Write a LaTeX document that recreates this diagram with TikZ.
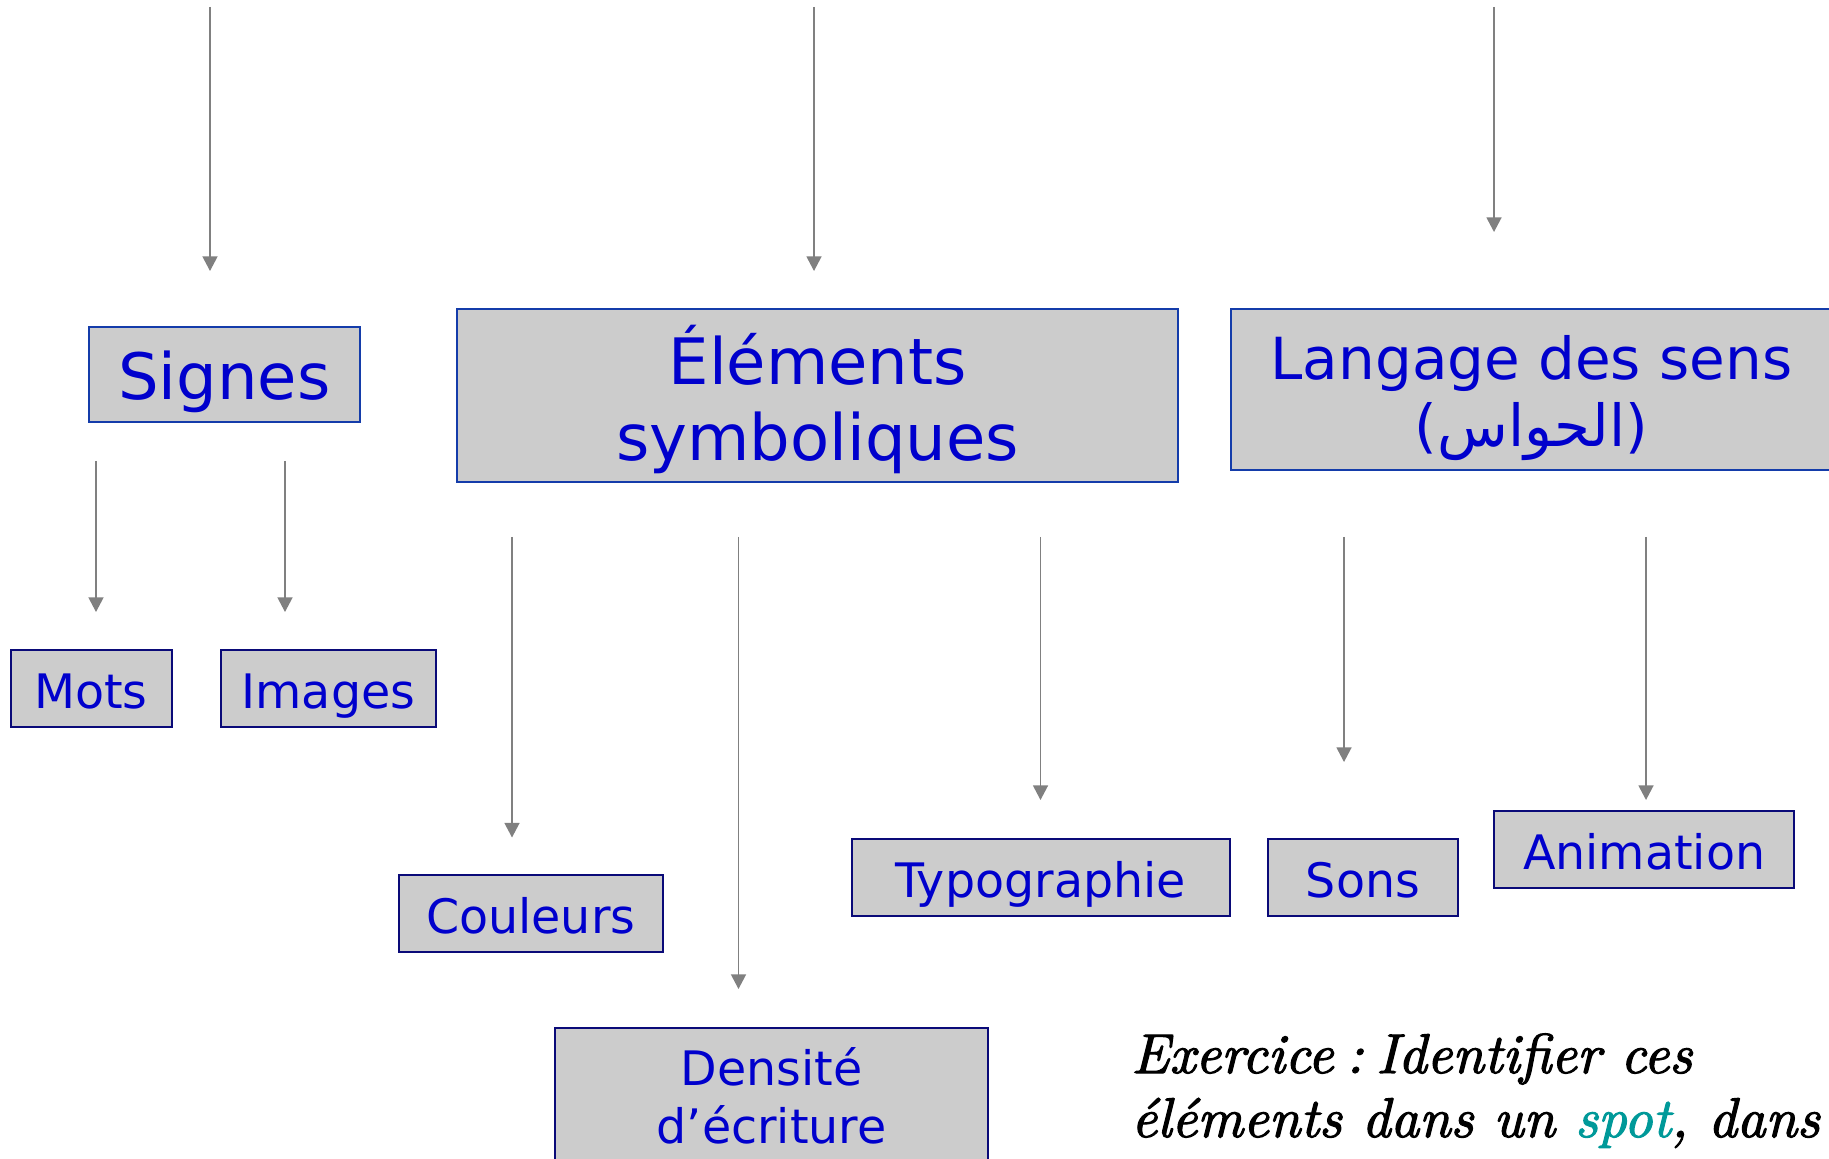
\documentclass[tikz,border=0pt]{standalone}
\usepackage{fontspec}
\newfontfamily\dv{DejaVu Sans}
\newfontfamily\arabicfont[Script=Arabic]{DejaVu Sans}
\newfontfamily\lmten[FakeBold=2]{lmroman10-italic.otf}
\TeXXeTstate=1
\usetikzlibrary{arrows.meta}
\definecolor{txtblue}{RGB}{0,0,204}
\definecolor{boxfill}{RGB}{204,204,204}
\definecolor{bordA}{RGB}{20,60,170}
\definecolor{bordB}{RGB}{10,10,120}
\definecolor{arrgray}{RGB}{128,128,128}
\definecolor{tealspot}{RGB}{0,153,153}
\newcommand\twolines[2]{\vbox{\halign{\hfil##\hfil\cr#1\cr#2\cr}}}
\newcommand\leftlines[2]{\vbox{\halign{##\hfil\cr#1\cr#2\cr}}}
\tikzset{
  box/.style={draw, fill=boxfill, line width=1pt, text=txtblue, inner sep=0pt},
  bigbox/.style={box, draw=bordA},
  smallbox/.style={box, draw=bordB, font=\dv\fontsize{23.75}{29}\selectfont,
    text height=22pt, text depth=2pt, minimum height=38.5pt},
  arr/.style={draw=arrgray, line width=0.75pt, -{Triangle[width=7.5pt,length=7.3pt]}}
}
\begin{document}
\begin{tikzpicture}[x=0.5pt,y=-0.5pt]
\useasboundingbox (0,0) rectangle (1829,1159);
% top boxes
\node[bigbox, font=\dv\fontsize{32}{38}\selectfont, minimum width=135.85pt, minimum height=47.85pt,
  text height=28pt, text depth=2.5pt] (signes) at (224.5,374.5) {Signes};
\node[bigbox, font=\dv\fontsize{32}{38}\selectfont, minimum width=360.45pt, minimum height=86.35pt,
  text height=68pt, text depth=2.5pt] (elem) at (817.75,395.45) {\twolines{Éléments}{symboliques}};
\node[bigbox, font=\dv\fontsize{29}{33.5}\selectfont, minimum width=300.8pt, minimum height=80.5pt,
  text height=60pt, text depth=2.6pt] (lang) at (1531.5,389.6)
  {\twolines{Langage des sens}{({\arabicfont\beginR الحواس\endR})}};
% lower boxes
\node[smallbox, minimum width=80.5pt] (mots) at (91,688.2) {Mots};
\node[smallbox, minimum width=107.9pt] (images) at (328.4,688.2) {Images};
\node[smallbox, minimum width=131.85pt] (couleurs) at (530.75,913.4) {Couleurs};
\node[smallbox, minimum width=189pt] (typo) at (1040.5,877.2) {Typographie};
\node[smallbox, minimum width=95pt] (sons) at (1363,877.2) {Sons};
\node[smallbox, minimum width=149.9pt] (anim) at (1644.2,849.2) {Animation};
\node[smallbox, minimum width=216.35pt, minimum height=71.15pt, text height=46pt, text depth=1.9pt]
  (dens) at (771.65,1098.9) {\twolines{Densité}{d’écriture}};
% exercise text
\node[anchor=base west, inner sep=0pt, font=\lmten\fontsize{28}{32}\selectfont\frenchspacing] (ex) at (1131,1137)
  {\leftlines{Exercice\hspace{0.23em}:\hspace{0.23em}Identifier ces}{éléments dans un \textcolor{tealspot}{spot}, dans}};
% arrow end points
\coordinate (t1s) at (210,7);    \coordinate (t1e) at (210,271);
\coordinate (t2s) at (814,7);    \coordinate (t2e) at (814,271);
\coordinate (t3s) at (1494,7);   \coordinate (t3e) at (1494,232);
\coordinate (s1s) at (96,461);   \coordinate (s1e) at (96,612);
\coordinate (s2s) at (285,461);  \coordinate (s2e) at (285,612);
\coordinate (e1s) at (512,537);  \coordinate (e1e) at (512,837.5);
\coordinate (e2s) at (738.5,537);\coordinate (e2e) at (738.5,989);
\coordinate (e3s) at (1040.5,537);\coordinate (e3e) at (1040.5,800);
\coordinate (l1s) at (1344,537); \coordinate (l1e) at (1344,762);
\coordinate (l2s) at (1646,537); \coordinate (l2e) at (1646,800);
\foreach \a in {t1,t2,t3,s1,s2,e1,e2,e3,l1,l2}
  \draw[arr] (\a s) -- (\a e);
\end{tikzpicture}
\end{document}
